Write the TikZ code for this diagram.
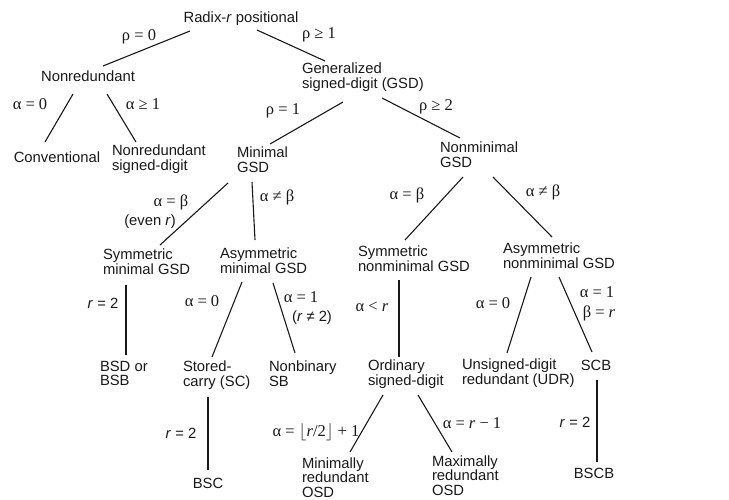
\documentclass[tikz,border=0pt]{standalone}
\usepackage{amsmath,amssymb}
\usepackage{fontspec}
\setmainfont{Liberation Sans}
\newfontfamily\symfont{Liberation Serif}
\usepackage{tikz}
\definecolor{inkgray}{RGB}{25,25,25}
\tikzset{
  classnode/.style={inner sep=0pt,outer sep=0pt,align=left,font=\fontsize{14.8}{14.5}\selectfont,text=inkgray},
  condlabel/.style={inner sep=0pt,outer sep=0pt,font=\fontsize{16.5}{15}\selectfont\symfont,text=inkgray},
  rlabel/.style={inner sep=0pt,outer sep=0pt,font=\fontsize{14.8}{15}\selectfont,text=inkgray},
  branch/.style={line width=1.1pt,draw=inkgray}
}

\begin{document}
\begin{tikzpicture}[x=1pt,y=-1pt]
  \useasboundingbox[fill=white] (0,0) rectangle (729,499);

  %% Root and first level
  \node[classnode,anchor=base] (radix) at (241,22) {Radix-\textit{r} positional};
  \node[classnode,anchor=base] (nonred) at (88,81) {Nonredundant};
  \node[classnode,anchor=north west] (gsd) at (302,63) {Generalized\\signed-digit (GSD)};

  %% Nonredundant branch
  \node[classnode,anchor=base] (conv) at (57,162) {Conventional};
  \node[classnode,anchor=north west] (nrsd) at (112,145) {Nonredundant\\signed-digit};

  %% GSD branch
  \node[classnode,anchor=north west] (mingsd) at (237,147) {Minimal\\GSD};
  \node[classnode,anchor=north west] (nonmin) at (440,142) {Nonminimal\\GSD};
  \node[classnode,anchor=north west] (symmin) at (103,249) {Symmetric\\minimal GSD};
  \node[classnode,anchor=north west] (asymmin) at (220,248) {Asymmetric\\minimal GSD};
  \node[classnode,anchor=north west] (symnon) at (358,246) {Symmetric\\nonminimal GSD};
  \node[classnode,anchor=north west] (asymnon) at (503,243) {Asymmetric\\nonminimal GSD};

  %% Leaves
  \node[classnode,anchor=north west] (bsd) at (100,361) {BSD or\\BSB};
  \node[classnode,anchor=north west] (sc) at (183,361) {Stored-\\carry (SC)};
  \node[classnode,anchor=north west] (nbsb) at (269,361) {Nonbinary\\SB};
  \node[classnode,anchor=north west] (osd) at (368,360) {Ordinary\\signed-digit};
  \node[classnode,anchor=north west] (udr) at (462,359) {Unsigned-digit\\redundant (UDR)};
  \node[classnode,anchor=base] (scb) at (596,370) {SCB};
  \node[classnode,anchor=base] (bsc) at (208,488) {BSC};
  \node[classnode,anchor=north west] (minosd) at (302,457.5) {Minimally\\redundant\\OSD};
  \node[classnode,anchor=north west] (maxosd) at (432,455.5) {Maximally\\redundant\\OSD};
  \node[classnode,anchor=base] (bscb) at (594,478) {BSCB};

  %% Branches
  \draw[branch] ([shift={(-51,9)}]radix.base) -- ([shift={(15,-15)}]nonred.base);
  \draw[branch] ([shift={(16,8)}]radix.base) -- ([shift={(23,-2)}]gsd.north west);
  \draw[branch] ([shift={(-15,13)}]nonred.base) -- ([shift={(-12,-20)}]conv.base);
  \draw[branch] ([shift={(19,13)}]nonred.base) -- ([shift={(24,-3)}]nrsd.north west);
  \draw[branch] ([shift={(41,39)}]gsd.north west) -- ([shift={(33,-3)}]mingsd.north west);
  \draw[branch] ([shift={(80,35)}]gsd.north west) -- ([shift={(20,-4)}]nonmin.north west);
  \draw[branch] ([shift={(-9,36)}]mingsd.north west) -- ([shift={(57,-4)}]symmin.north west);
  \draw[branch] ([shift={(15,35)}]mingsd.north west) -- ([shift={(35,-8)}]asymmin.north west);
  \draw[branch] ([shift={(23,35)}]nonmin.north west) -- ([shift={(47,-6)}]symnon.north west);
  \draw[branch] ([shift={(53,35)}]nonmin.north west) -- ([shift={(49,-6)}]asymnon.north west);
  \draw[branch] ([shift={(23,36)}]symmin.north west) -- ([shift={(26,-6)}]bsd.north west);
  \draw[branch] ([shift={(22,34)}]asymmin.north west) -- ([shift={(29,-4)}]sc.north west);
  \draw[branch] ([shift={(53,35)}]asymmin.north west) -- ([shift={(26,-8)}]nbsb.north west);
  \draw[branch] ([shift={(41,34)}]symnon.north west) -- ([shift={(31,-3)}]osd.north west);
  \draw[branch] ([shift={(28,34)}]asymnon.north west) -- ([shift={(45,-6)}]udr.north west);
  \draw[branch] ([shift={(56,34)}]asymnon.north west) -- ([shift={(-4,-18)}]scb.base);
  \draw[branch] ([shift={(25,36)}]sc.north west) -- ([shift={(0,-18)}]bsc.base);
  \draw[branch] ([shift={(15,35)}]osd.north west) -- ([shift={(48,-5.5)}]minosd.north west);
  \draw[branch] ([shift={(50,35)}]osd.north west) -- ([shift={(20,-3.5)}]maxosd.north west);
  \draw[branch] ([shift={(1,10)}]scb.base) -- ([shift={(3,-16)}]bscb.base);

  %% Branch conditions
  \node[condlabel] (c1) at (139,37) {ρ = 0};
  \node[condlabel] (c2) at (319,35) {ρ ≥ 1};
  \node[condlabel] (c3) at (30,104) {α = 0};
  \node[condlabel] (c4) at (143,104) {α ≥ 1};
  \node[condlabel] (c5) at (283,111) {ρ = 1};
  \node[condlabel] (c6) at (436,107) {ρ ≥ 2};
  \node[condlabel] (c7) at (171,202) {α = β};
  \node[rlabel] (c7r) at (150,222) {(even \textit{r})};
  \node[condlabel] (c8) at (277,197) {α ≠ β};
  \node[condlabel] (c9) at (407,195) {α = β};
  \node[condlabel] (c10) at (543,192) {α ≠ β};
  \node[rlabel] (c11) at (103,303) {\textit{r} = 2};
  \node[condlabel] (c12) at (202,301) {α = 0};
  \node[condlabel] (c13) at (301,297) {α = 1};
  \node[rlabel] (c13r) at (312,318) {(\textit{r} ≠ 2)};
  \node[condlabel] (c14) at (372,307) {α < \textit{r}};
  \node[condlabel] (c15) at (493,303) {α = 0};
  \node[condlabel] (c16) at (597,292) {α = 1};
  \node[condlabel] (c16b) at (599,313) {β = \textit{r}};
  \node[rlabel] (c17) at (181,433) {\textit{r} = 2};
  \node[condlabel] (c18) at (316,432) {α = $\lfloor$\textit{r}/2$\rfloor$ + 1};
  \node[condlabel] (c19) at (472,423) {α = \textit{r} − 1};
  \node[rlabel] (c20) at (575,422) {\textit{r} = 2};
\end{tikzpicture}
\end{document}
